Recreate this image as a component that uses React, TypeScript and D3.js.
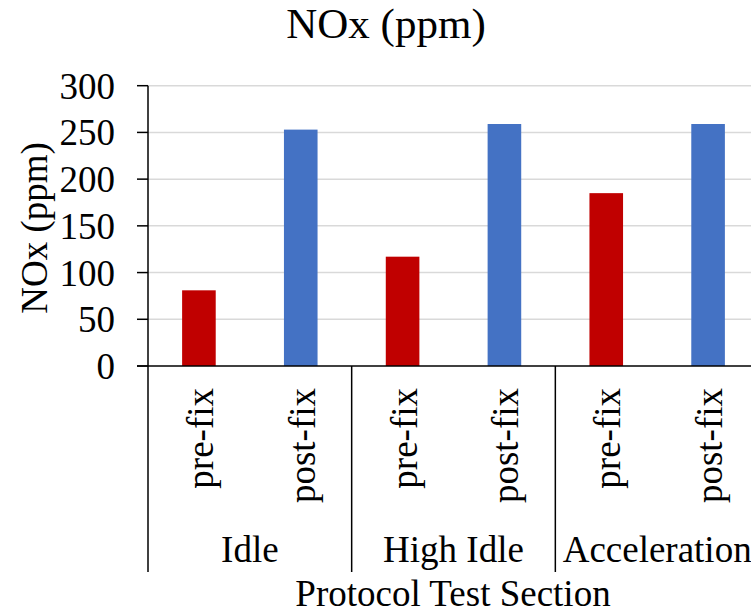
import React from "react";
import * as d3 from "d3";

const groups = ["Idle", "High Idle", "Acceleration"];
const series = ["pre-fix", "post-fix"];
const preFix = [81, 117, 185];
const postFix = [253, 259, 259];
const yTicks = [0, 50, 100, 150, 200, 250, 300];
const colors = ["#c00000", "#4472c4"];

const W = 751;
const H = 615;
const FONT = "'Liberation Serif', 'Times New Roman', serif";

export default function App() {
  const y = d3.scaleLinear().domain([0, 300]).range([366, 85.7]);
  const xg = d3.scaleBand<string>().domain(groups).range([148, 759]).padding(0);
  const xs = d3
    .scaleBand<string>()
    .domain(series)
    .range([0, xg.bandwidth()])
    .paddingInner(0.67)
    .paddingOuter(0.335);
  const values = [preFix, postFix];
  const axisBottom = 572;

  return (
    <svg
      width={W}
      height={H}
      style={{ position: "absolute", left: 0, top: 0, background: "#fff" }}
      fontFamily={FONT}
    >
      {/* gridlines */}
      {yTicks.slice(1).map((t) => (
        <line key={"g" + t} x1={148} x2={W} y1={y(t)} y2={y(t)} stroke="#d9d9d9" strokeWidth={1.5} />
      ))}
      {/* bars */}
      {groups.map((g, gi) =>
        series.map((s, si) => {
          const v = values[si][gi];
          const x0 = (xg(g) ?? 0) + (xs(s) ?? 0);
          return (
            <rect
              key={g + s}
              x={x0}
              y={y(v)}
              width={xs.bandwidth()}
              height={y(0) - y(v)}
              fill={colors[si]}
            />
          );
        })
      )}
      {/* y ticks */}
      {yTicks.map((t) => (
        <g key={"t" + t}>
          <line x1={137} x2={148} y1={y(t)} y2={y(t)} stroke="#000" strokeWidth={1.5} />
          <text x={115} y={y(t)} dy="0.35em" textAnchor="end" fontSize={37} fill="#000">
            {t}
          </text>
        </g>
      ))}
      {/* axes */}
      <line x1={137} x2={W} y1={y(0)} y2={y(0)} stroke="#000" strokeWidth={1.5} />
      <line x1={148} x2={148} y1={y(300)} y2={axisBottom} stroke="#000" strokeWidth={1.5} />
      {groups.map((g) => (
        <line
          key={"sep" + g}
          x1={(xg(g) ?? 0) + xg.bandwidth()}
          x2={(xg(g) ?? 0) + xg.bandwidth()}
          y1={y(0)}
          y2={axisBottom}
          stroke="#000"
          strokeWidth={1.5}
        />
      ))}
      {/* category labels */}
      {groups.map((g) =>
        series.map((s) => {
          const cx = (xg(g) ?? 0) + (xs(s) ?? 0) + xs.bandwidth() / 2 + 14;
          return (
            <text
              key={"l" + g + s}
              transform={`translate(${cx},388) rotate(-90)`}
              textAnchor="end"
              fontSize={37}
              fill="#000"
            >
              {s}
            </text>
          );
        })
      )}
      {groups.map((g) => (
        <text
          key={"gl" + g}
          x={(xg(g) ?? 0) + xg.bandwidth() / 2}
          y={562}
          textAnchor="middle"
          fontSize={37}
          fill="#000"
        >
          {g}
        </text>
      ))}
      {/* axis titles */}
      <text x={453} y={606} textAnchor="middle" fontSize={37} fill="#000">
        Protocol Test Section
      </text>
      <text transform="translate(47,228) rotate(-90)" textAnchor="middle" fontSize={37} fill="#000">
        NOx (ppm)
      </text>
      <text x={386} y={38} textAnchor="middle" fontSize={43} fill="#000">
        NOx (ppm)
      </text>
    </svg>
  );
}
